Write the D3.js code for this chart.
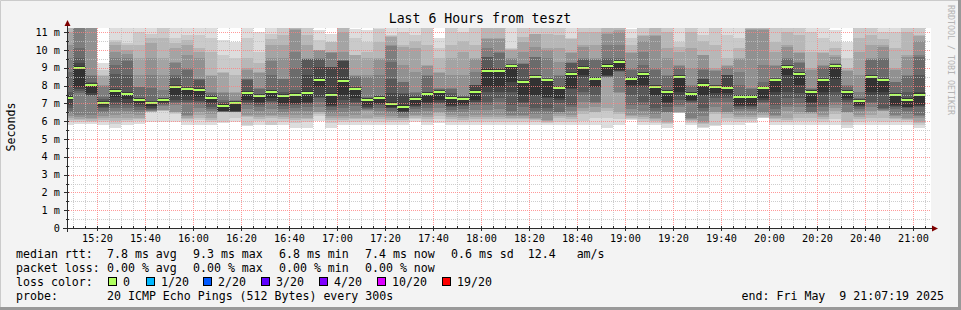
<!DOCTYPE html>
<html>
<head>
<meta charset="utf-8">
<script src="https://cdn.jsdelivr.net/npm/d3@7"></script>
<style>
  body { margin: 0; background: #f3f3f3; }
  svg text { font-family: "DejaVu Sans Mono", monospace; white-space: pre; }
</style>
</head>
<body>
<script>
// ---- data (ms) ----
const startStamp = "15:07:19";
const endStamp = "21:07:19";

// end time of each 5 minute step
const times = [
  "15:10","15:15","15:20","15:25","15:30","15:35","15:40","15:45","15:50","15:55",
  "16:00","16:05","16:10","16:15","16:20","16:25","16:30","16:35","16:40","16:45",
  "16:50","16:55","17:00","17:05","17:10","17:15","17:20","17:25","17:30","17:35",
  "17:40","17:45","17:50","17:55","18:00","18:05","18:10","18:15","18:20","18:25",
  "18:30","18:35","18:40","18:45","18:50","18:55","19:00","19:05","19:10","19:15",
  "19:20","19:25","19:30","19:35","19:40","19:45","19:50","19:55","20:00","20:05",
  "20:10","20:15","20:20","20:25","20:30","20:35","20:40","20:45","20:50","20:55",
  "21:00","21:05"
];

const medians = [
  7.30,9.01,8.02,7.02,7.68,7.53,7.19,7.02,7.19,7.92,
  7.81,7.75,7.32,6.85,7.02,7.57,7.42,7.64,7.40,7.45,
  7.58,8.33,7.47,8.26,7.79,7.17,7.28,6.98,6.82,7.26,
  7.51,7.62,7.30,7.26,7.62,8.80,8.80,9.08,8.20,8.47,
  8.30,7.85,8.63,8.99,8.35,9.10,9.33,8.35,8.65,7.92,
  7.62,8.48,7.53,8.03,7.92,7.88,7.38,7.38,7.85,8.30,
  9.03,8.65,7.64,8.30,9.10,7.62,7.13,8.48,8.32,7.45,
  7.19,7.47
];

// 20 sorted ping times per step
const pings = [
  [5.80,5.95,6.05,6.16,6.30,6.45,6.60,6.72,6.91,7.17,7.30,7.47,7.65,8.78,9.53,10.28,11.03,11.5,11.7,11.9],
  [5.85,5.95,6.05,6.15,6.25,6.34,7.56,7.70,7.80,7.94,9.01,9.25,9.53,10.09,11.6,11.7,11.8,11.9,12.0,12.1],
  [5.85,5.95,6.00,6.10,6.20,6.34,7.40,7.45,7.50,7.56,8.02,8.10,8.22,8.55,8.59,11.6,11.7,11.8,11.9,12.0],
  [5.80,5.95,6.05,6.16,6.30,6.45,6.60,6.72,6.80,6.91,7.02,7.10,7.25,7.37,8.00,8.03,8.55,8.59,8.87,9.25],
  [5.60,5.85,6.00,6.16,6.35,6.55,6.75,6.91,7.10,7.37,7.68,7.75,8.68,9.15,9.53,9.90,10.28,10.43,10.56,11.6],
  [5.80,5.95,6.05,6.20,6.40,6.55,6.75,6.91,7.05,7.25,7.53,7.60,8.59,9.40,9.53,9.80,9.99,10.30,10.37,11.6],
  [5.85,6.00,6.10,6.20,6.35,6.50,6.65,6.80,6.90,7.00,7.19,7.23,7.28,7.90,7.94,8.59,9.53,10.28,11.03,11.3],
  [5.97,6.50,6.52,6.54,6.56,6.58,6.62,6.68,6.75,6.85,7.02,7.05,7.09,7.84,8.59,9.53,10.37,10.65,10.93,11.6],
  [5.97,6.58,6.60,6.62,6.65,6.85,6.90,6.95,7.00,7.10,7.19,7.22,7.25,7.28,7.75,8.59,9.53,10.65,11.45,11.6],
  [5.97,6.40,6.45,6.50,6.53,6.90,7.00,7.10,7.19,7.47,7.92,7.94,8.50,8.59,9.30,9.34,10.09,10.37,10.65,11.6],
  [5.80,6.00,6.10,6.20,6.30,6.34,7.00,7.09,7.20,7.40,7.81,7.83,7.84,8.90,8.97,9.71,10.28,10.56,10.84,11.6],
  [5.80,6.05,6.20,6.34,6.50,6.75,6.95,7.09,7.15,7.35,7.75,7.77,8.30,8.35,8.40,9.53,9.90,10.09,10.84,11.6],
  [5.80,5.95,6.05,6.16,6.40,6.55,6.70,6.82,6.95,7.10,7.32,7.37,7.50,7.60,7.65,8.55,8.59,9.90,10.65,11.6],
  [5.90,5.97,6.50,6.51,6.52,6.53,6.54,6.55,6.56,6.57,6.85,6.95,7.10,7.19,7.60,7.65,8.70,8.78,9.71,10.56],
  [5.97,6.20,6.50,6.51,6.52,6.53,6.54,6.54,6.55,6.56,7.02,7.06,7.10,7.15,7.19,7.60,7.65,8.59,9.53,10.46],
  [5.75,5.80,6.25,6.30,6.34,6.70,6.90,7.00,7.10,7.20,7.57,7.65,8.30,8.35,8.40,8.90,8.97,9.53,10.65,11.6],
  [5.80,6.00,6.15,6.25,6.34,6.60,6.80,6.91,7.00,7.10,7.42,7.44,7.47,7.80,7.84,8.70,8.78,9.30,9.90,11.03],
  [5.78,5.80,6.20,6.30,6.34,6.70,6.95,7.09,7.15,7.30,7.64,7.70,7.75,8.59,9.40,9.53,10.28,10.60,10.93,11.6],
  [5.80,5.95,6.10,6.25,6.34,6.50,6.70,6.85,6.95,7.05,7.40,7.50,7.65,8.35,8.40,9.53,10.28,10.84,11.5,11.6],
  [5.60,5.90,6.05,6.16,6.35,6.55,6.75,6.91,6.95,7.00,7.45,7.60,7.75,8.97,9.90,11.1,11.2,11.5,11.6,11.7],
  [5.60,5.95,6.10,6.20,6.34,6.60,6.80,6.95,7.00,7.10,7.58,8.59,9.50,9.51,9.52,9.53,10.28,10.84,11.5,11.6],
  [6.00,6.30,6.40,6.50,6.53,6.80,7.10,7.30,7.37,7.94,8.33,9.06,9.51,9.52,9.53,9.98,9.99,10.00,10.56,11.12],
  [5.60,5.90,6.05,6.16,6.30,6.45,6.65,6.80,6.85,6.91,7.47,9.04,9.05,9.06,9.86,9.88,9.90,10.44,10.46,10.93],
  [5.80,5.95,6.05,6.16,6.30,6.50,6.75,6.91,7.20,7.47,8.26,9.40,9.41,9.42,9.43,9.90,11.03,11.45,11.5,11.6],
  [5.80,5.95,6.10,6.20,6.34,6.60,6.85,7.00,7.09,7.30,7.79,7.82,7.84,8.50,8.55,8.59,9.70,9.71,10.65,11.21],
  [5.80,6.00,6.10,6.16,6.60,6.65,6.70,6.72,6.80,6.90,7.17,7.20,7.30,7.37,8.50,8.59,9.53,9.90,10.46,11.12],
  [5.80,5.95,6.10,6.25,6.34,6.55,6.75,6.91,6.95,7.00,7.28,7.33,7.40,7.47,8.59,9.50,9.53,10.46,11.21,11.6],
  [5.80,5.95,6.05,6.16,6.30,6.45,6.60,6.72,6.75,6.80,6.98,7.56,8.40,9.34,10.25,10.28,10.75,10.80,10.84,11.6],
  [5.80,5.95,6.05,6.16,6.20,6.30,6.45,6.50,6.53,6.55,6.82,7.55,7.56,8.20,8.22,9.15,10.20,10.28,11.03,11.6],
  [5.97,6.10,6.20,6.30,6.34,6.50,6.70,6.82,6.85,6.90,7.26,7.35,7.50,7.60,7.65,8.78,10.09,10.50,10.84,11.6],
  [5.80,5.95,6.10,6.25,6.34,6.55,6.75,6.91,7.00,7.10,7.51,7.60,7.65,8.55,8.59,9.10,9.15,10.28,11.5,11.6],
  [5.88,6.10,6.30,6.45,6.53,6.75,6.95,7.05,7.10,7.19,7.62,7.63,7.65,7.80,7.84,8.70,8.78,9.53,10.09,10.65],
  [5.80,5.95,6.10,6.25,6.34,6.50,6.65,6.80,6.85,6.91,7.30,7.37,7.60,7.80,7.84,8.59,9.53,10.28,11.5,11.6],
  [5.80,5.95,6.05,6.16,6.30,6.50,6.70,6.85,6.90,6.95,7.26,7.30,7.35,7.40,7.47,8.59,9.90,10.50,11.03,11.6],
  [5.80,5.95,6.10,6.25,6.34,6.65,6.90,7.09,7.10,7.20,7.62,8.03,8.04,8.05,8.78,9.50,9.53,10.28,11.5,11.6],
  [5.80,5.95,6.10,6.25,6.34,6.65,6.90,7.09,7.65,7.90,8.80,8.97,9.60,9.62,10.09,10.60,10.65,11.5,11.6,11.7],
  [5.80,5.95,6.10,6.25,6.34,6.70,7.09,7.30,7.65,7.90,8.80,8.90,8.97,9.85,9.90,10.60,10.65,11.5,11.6,11.7],
  [5.80,5.95,6.10,6.20,6.30,6.34,6.60,6.91,7.65,8.20,9.08,9.10,9.13,9.15,9.50,9.53,10.00,10.05,10.09,11.6],
  [5.80,5.95,6.10,6.20,6.30,6.34,6.80,7.00,7.09,7.50,8.20,8.22,9.23,9.24,9.25,9.90,10.45,10.75,11.5,11.6],
  [5.80,5.95,6.05,6.10,6.16,6.40,6.60,6.72,7.40,7.47,8.47,8.55,8.59,9.60,9.62,10.18,10.90,10.93,11.5,11.6],
  [5.80,5.90,5.97,6.00,6.07,6.40,6.60,6.72,7.30,7.37,8.30,8.35,8.38,8.40,9.53,10.00,10.09,10.93,11.5,11.6],
  [5.80,5.95,6.16,6.30,6.40,6.50,6.53,7.00,7.20,7.28,7.85,7.90,7.94,8.55,8.59,9.34,10.09,10.84,11.5,11.6],
  [5.80,5.95,6.10,6.25,6.34,6.60,6.80,6.91,7.80,7.84,8.63,8.68,9.28,9.30,9.34,9.85,9.90,10.60,10.65,11.6],
  [5.78,6.00,6.40,6.60,6.72,7.10,7.50,7.65,8.50,8.59,8.99,9.06,9.45,9.50,9.53,10.20,10.28,11.03,11.5,11.6],
  [5.78,6.20,6.50,6.53,6.80,7.00,7.09,7.50,7.90,7.94,8.35,8.40,8.50,9.45,9.50,9.53,10.28,11.03,11.5,11.6],
  [5.60,6.20,6.60,6.72,8.45,8.48,8.51,8.54,8.57,8.59,9.10,9.20,9.50,9.53,10.28,10.90,11.03,11.5,11.6,11.7],
  [5.80,6.10,6.40,6.53,7.60,7.65,8.75,8.80,8.85,8.87,9.33,9.40,9.45,9.53,10.28,11.00,11.12,11.5,11.6,11.7],
  [6.06,6.10,6.20,6.30,6.34,6.70,6.91,7.50,7.90,8.03,8.35,8.40,8.50,8.90,8.97,9.85,9.90,10.30,10.65,11.21],
  [5.80,5.95,6.10,6.25,6.34,6.60,6.90,7.09,7.90,8.03,8.65,8.70,8.78,9.15,9.90,10.50,10.80,10.84,11.5,11.6],
  [5.78,5.90,6.00,6.10,6.16,6.40,6.60,6.72,7.40,7.47,7.92,7.98,8.03,8.90,8.97,10.80,10.84,11.5,11.6,11.7],
  [5.60,5.85,5.90,5.97,6.45,6.50,6.53,6.80,7.00,7.09,7.62,7.70,7.75,8.55,8.59,9.53,10.09,11.03,11.5,11.6],
  [6.45,6.47,6.49,6.51,6.53,6.80,6.91,7.20,7.50,7.65,8.48,8.55,8.59,9.00,9.10,9.15,9.90,10.20,10.46,11.6],
  [5.78,5.90,6.00,6.05,6.10,6.16,7.00,7.10,7.15,7.19,7.53,7.60,7.65,8.00,8.03,8.97,10.09,11.03,11.5,11.6],
  [5.60,5.70,5.85,5.90,5.97,6.30,6.60,6.72,7.40,7.47,8.03,8.38,8.40,8.90,8.97,9.70,9.71,10.50,10.84,11.6],
  [5.75,5.80,6.40,6.50,6.53,6.80,7.10,7.28,7.40,7.60,7.92,7.96,8.00,8.03,8.85,8.90,8.97,10.28,11.5,11.6],
  [5.78,6.00,6.20,6.40,6.50,6.53,7.10,7.28,7.40,7.60,7.88,8.59,8.60,8.62,9.00,9.10,9.15,9.53,10.84,11.6],
  [5.80,5.95,6.10,6.25,6.34,6.60,6.70,6.80,6.85,6.91,7.38,7.42,7.47,8.03,8.78,9.50,9.53,10.10,10.65,11.6],
  [5.90,6.00,6.10,6.25,6.34,6.60,6.70,6.80,6.85,6.91,7.38,7.42,7.47,7.80,7.84,11.10,11.21,11.5,11.6,11.7],
  [6.16,6.20,6.25,6.35,6.45,6.53,7.00,7.10,7.20,7.28,7.85,7.90,7.94,8.22,9.15,11.10,11.21,11.5,11.6,11.7],
  [5.80,5.95,6.10,6.20,6.30,6.34,6.70,6.91,7.50,7.65,8.30,8.35,8.38,8.40,9.10,9.15,9.90,10.46,11.5,11.6],
  [5.80,5.95,6.05,6.16,6.60,6.80,6.91,7.30,7.65,8.59,9.03,9.10,9.15,9.50,9.53,10.20,10.28,11.03,11.5,11.6],
  [5.80,6.00,6.20,6.40,6.53,6.80,7.00,7.28,7.60,8.03,8.65,8.72,8.78,9.30,9.34,9.85,9.90,10.84,11.5,11.6],
  [5.80,6.00,6.20,6.40,6.45,6.50,6.53,6.80,7.00,7.09,7.64,7.70,7.75,7.80,7.84,8.90,8.97,9.90,11.03,11.6],
  [5.80,5.95,6.10,6.25,6.34,6.60,6.80,6.91,7.50,7.65,8.30,8.35,8.40,9.00,9.10,9.15,9.85,9.90,10.65,11.6],
  [5.80,6.10,6.40,6.60,6.72,6.90,7.10,7.40,7.65,8.40,9.10,9.14,9.18,9.22,9.25,9.60,9.71,10.10,10.46,11.12],
  [5.60,5.80,5.97,6.45,6.50,6.53,6.90,7.10,7.20,7.28,7.62,7.70,7.75,8.00,8.03,8.85,8.90,8.97,9.53,10.46],
  [5.80,5.95,6.10,6.25,6.34,6.55,6.70,6.80,6.85,6.91,7.13,7.18,7.22,7.28,7.65,8.59,9.90,10.65,11.5,11.6],
  [5.80,6.00,6.20,6.34,6.60,6.80,7.00,7.09,7.50,7.65,8.48,8.55,8.59,9.45,9.50,9.53,10.28,10.84,11.5,11.6],
  [5.80,5.95,6.16,6.55,6.60,6.65,6.70,6.72,7.50,7.65,8.32,8.35,8.40,9.50,9.53,10.20,10.28,10.60,11.03,11.6],
  [5.80,5.95,6.10,6.20,6.30,6.34,6.70,6.80,6.85,6.91,7.45,7.50,7.56,8.20,8.22,8.90,8.97,10.09,11.03,11.6],
  [5.80,5.95,6.05,6.10,6.16,6.40,6.60,6.75,6.80,6.82,7.19,7.28,7.65,8.55,8.59,9.60,9.71,11.03,11.5,11.6],
  [5.60,5.80,5.90,5.97,6.20,6.30,6.34,6.80,6.85,6.91,7.47,7.65,8.59,9.60,9.71,10.50,10.80,10.84,11.5,11.6]
];

const yTicks = [0,1,2,3,4,5,6,7,8,9,10,11];
const xTicks = ["15:20","15:40","16:00","16:20","16:40","17:00","17:20","17:40","18:00",
  "18:20","18:40","19:00","19:20","19:40","20:00","20:20","20:40","21:00"];

const title = "Last 6 Hours from teszt";
const rttStats = ["7.8 ms avg", "9.3 ms max", "6.8 ms min", "7.4 ms now", "0.6 ms sd  12.4   am/s"];
const lossStats = ["0.00 % avg", "0.00 % max", "0.00 % min", "0.00 % now"];
const lossLabels = ["0", "1/20", "2/20", "3/20", "4/20", "10/20", "19/20"];
const lossColors = ["#b0ff60", "#00b8ff", "#0059ff", "#5e00ff", "#7e00ff", "#dd00ff", "#ff0000"];
const probeText = "20 ICMP Echo Pings (512 Bytes) every 300s";
const endText = "end: Fri May  9 21:07:19 2025";

// ---- layout ----
const W = 961, H = 310;
const pL = 67, pR = 931, pT = 28, pB = 228;

const parseT = d3.timeParse("%H:%M:%S");
const parseHM = d3.timeParse("%H:%M");

const x = d3.scaleTime()
  .domain([parseT(startStamp), parseT(endStamp)])
  .range([pL, pR]);
const y = d3.scaleLinear()
  .domain([0, 11.24])
  .range([pB, pT]);

const svg = d3.select("body").append("svg")
  .attr("width", W)
  .attr("height", H)
  .attr("viewBox", [0, 0, W, H]);

// background + frame shading
svg.append("rect").attr("width", W).attr("height", H).attr("fill", "#f3f3f3");
svg.append("path").attr("d", `M0.5,${H} V0.5 H${W}`).attr("fill", "none")
  .attr("stroke", "#cbcbcb").attr("stroke-width", 1);
svg.append("path").attr("d", `M${W - 1.5},0 V${H - 1.5} H0`).attr("fill", "none")
  .attr("stroke", "#999").attr("stroke-width", 3);

// canvas
svg.append("rect")
  .attr("x", pL).attr("y", pT)
  .attr("width", pR - pL).attr("height", pB - pT)
  .attr("fill", "#fff");

svg.append("clipPath").attr("id", "plot")
  .append("rect")
  .attr("x", pL).attr("y", pT)
  .attr("width", pR - pL).attr("height", pB - pT);

const steps = times.map((t, i) => ({
  end: parseHM(t),
  start: d3.timeMinute.offset(parseHM(t), -5),
  median: medians[i],
  pings: pings[i]
}));

// smoke: band i spans ping i .. ping (21-i), darker towards the middle
const bands = d3.range(1, 11);
const shade = i => {
  const v = Math.floor(190 / 10 * (10 - i)) + 50;
  return d3.rgb(v, v, v).formatHex();
};

const plot = svg.append("g").attr("clip-path", "url(#plot)");

const smoke = plot.append("g").attr("shape-rendering", "crispEdges");
steps.forEach(s => {
  smoke.selectAll(null)
    .data(bands)
    .join("rect")
    .attr("x", x(s.start))
    .attr("width", x(s.end) - x(s.start))
    .attr("y", i => y(s.pings[20 - i]))
    .attr("height", i => y(s.pings[i - 1]) - y(s.pings[20 - i]))
    .attr("fill", i => shade(i));
});

// median: loss coloured bar + dotted step line
plot.append("g")
  .attr("shape-rendering", "crispEdges")
  .selectAll("rect")
  .data(steps)
  .join("rect")
  .attr("x", d => x(d.start))
  .attr("width", d => x(d.end) - x(d.start))
  .attr("y", d => y(d.median) - 1)
  .attr("height", 2)
  .attr("fill", lossColors[0]);

const medPts = [];
steps.forEach(s => { medPts.push({t: s.start, m: s.median}); medPts.push({t: s.end, m: s.median}); });
plot.append("path")
  .attr("d", d3.line().x(d => x(d.t)).y(d => Math.round(y(d.m)) - 1.5)(medPts))
  .attr("fill", "none")
  .attr("stroke", "#202020")
  .attr("stroke-width", 1)
  .attr("stroke-dasharray", "1,1");

// grid on top
const grid = svg.append("g").attr("clip-path", "url(#plot)");
const minorX = d3.timeMinute.every(5).range(x.domain()[0], x.domain()[1]);
const majorX = xTicks.map(parseHM);
const minorY = d3.range(0.5, 11.24, 1);

grid.selectAll(".vx").data(minorX.filter(t => t.getMinutes() % 20)).join("line")
  .attr("x1", d => Math.round(x(d)) + 0.5).attr("x2", d => Math.round(x(d)) + 0.5)
  .attr("y1", pT).attr("y2", pB)
  .attr("stroke", "#c0c0c0").attr("stroke-opacity", 0.8).attr("stroke-dasharray", "1,1");
grid.selectAll(".hy").data(minorY).join("line")
  .attr("x1", pL).attr("x2", pR)
  .attr("y1", d => Math.round(y(d)) + 0.5).attr("y2", d => Math.round(y(d)) + 0.5)
  .attr("stroke", "#c0c0c0").attr("stroke-opacity", 0.8).attr("stroke-dasharray", "1,1");
grid.selectAll(".mx").data(majorX).join("line")
  .attr("x1", d => Math.round(x(d)) + 0.5).attr("x2", d => Math.round(x(d)) + 0.5)
  .attr("y1", pT).attr("y2", pB)
  .attr("stroke", "#ff8080").attr("stroke-opacity", 0.8).attr("stroke-dasharray", "1,1");
grid.selectAll(".my").data(yTicks.slice(1)).join("line")
  .attr("x1", pL).attr("x2", pR)
  .attr("y1", d => Math.round(y(d)) + 0.5).attr("y2", d => Math.round(y(d)) + 0.5)
  .attr("stroke", "#ff8080").attr("stroke-opacity", 0.8).attr("stroke-dasharray", "1,1");

// axes
const axisCol = "#2c2c2c";
const ax = svg.append("g").attr("shape-rendering", "crispEdges");
ax.append("line").attr("x1", pL - 4).attr("x2", pR + 1).attr("y1", pB + 0.5).attr("y2", pB + 0.5)
  .attr("stroke", axisCol);
ax.append("line").attr("x1", pL + 0.5).attr("x2", pL + 0.5).attr("y1", pB + 4).attr("y2", pT - 3)
  .attr("stroke", axisCol);
ax.selectAll(".ty").data(yTicks).join("line")
  .attr("x1", pL - 3).attr("x2", pL + 2)
  .attr("y1", d => Math.round(y(d)) + 0.5).attr("y2", d => Math.round(y(d)) + 0.5)
  .attr("stroke", axisCol);
ax.selectAll(".tyn").data(minorY).join("line")
  .attr("x1", pL - 1).attr("x2", pL + 2)
  .attr("y1", d => Math.round(y(d)) + 0.5).attr("y2", d => Math.round(y(d)) + 0.5)
  .attr("stroke", axisCol);
ax.selectAll(".tx").data(majorX).join("line")
  .attr("x1", d => Math.round(x(d)) + 0.5).attr("x2", d => Math.round(x(d)) + 0.5)
  .attr("y1", pB - 2).attr("y2", pB + 3)
  .attr("stroke", axisCol);
ax.selectAll(".txn").data(minorX).join("line")
  .attr("x1", d => Math.round(x(d)) + 0.5).attr("x2", d => Math.round(x(d)) + 0.5)
  .attr("y1", pB - 2).attr("y2", pB + 1)
  .attr("stroke", axisCol);

// arrows
svg.append("path")
  .attr("d", `M${pL - 2.5},${pT - 2} L${pL + 3.5},${pT - 2} L${pL + 0.5},${pT - 8} Z`)
  .attr("fill", "#7f0000");
svg.append("path")
  .attr("d", `M${pR + 1},${pB - 2.5} L${pR + 1},${pB + 3.5} L${pR + 7},${pB + 0.5} Z`)
  .attr("fill", "#7f0000");

// tick labels
svg.append("g").selectAll("text").data(yTicks).join("text")
  .attr("x", pL - 7).attr("y", d => y(d) + 3.5)
  .attr("text-anchor", "end").attr("font-size", 10.2)
  .text(d => d === 0 ? "0" : d + " m");
svg.append("g").selectAll("text").data(xTicks).join("text")
  .attr("x", d => x(parseHM(d))).attr("y", pB + 13.5)
  .attr("text-anchor", "middle").attr("font-size", 10.2)
  .text(d => d);

// titles
svg.append("text").attr("x", (pL + pR) / 2 - 19).attr("y", 23)
  .attr("text-anchor", "middle").attr("font-size", 13.2).text(title);
svg.append("text").attr("transform", `translate(15,127) rotate(-90)`)
  .attr("text-anchor", "middle").attr("font-size", 11.6).text("Seconds");
svg.append("text").attr("transform", `translate(948,5) rotate(90)`)
  .attr("font-size", 8.3).attr("fill", "#b4b4b4").text("RRDTOOL / TOBI OETIKER");

// legend
const col0 = 16, colX = [107, 193, 279, 365, 451];
const lg = svg.append("g").attr("font-size", 11.6);
const legendRow = (yy, label, items) => {
  lg.append("text").attr("x", col0).attr("y", yy).text(label);
  lg.selectAll(null).data(items).join("text")
    .attr("x", (d, i) => colX[i]).attr("y", yy).text(d => d);
};
legendRow(258, "median rtt:", rttStats);
legendRow(272, "packet loss:", lossStats);
lg.append("text").attr("x", col0).attr("y", 286).text("loss color:");
const swX = [108, 146, 203, 261, 319, 377, 442];
lg.selectAll(".sw").data(lossLabels).join("rect")
  .attr("x", (d, i) => swX[i] + 0.5).attr("y", 277.5)
  .attr("width", 8).attr("height", 8)
  .attr("fill", (d, i) => lossColors[i]).attr("stroke", "#000");
lg.selectAll(".swl").data(lossLabels).join("text")
  .attr("x", (d, i) => swX[i] + 15).attr("y", 286).text(d => d);
lg.append("text").attr("x", col0).attr("y", 300).text("probe:");
lg.append("text").attr("x", colX[0]).attr("y", 300).text(probeText);
lg.append("text").attr("x", 944).attr("y", 300).attr("text-anchor", "end").text(endText);
</script>
</body>
</html>
